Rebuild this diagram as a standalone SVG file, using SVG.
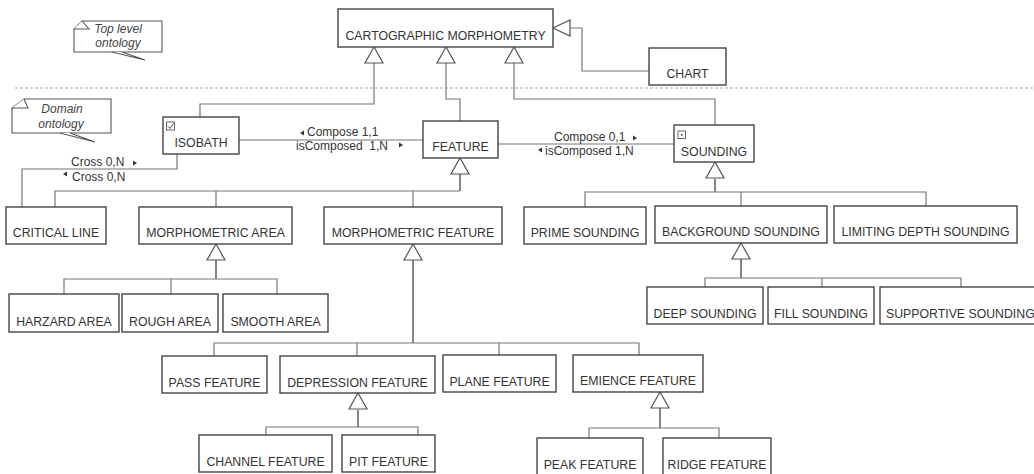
<svg xmlns="http://www.w3.org/2000/svg" xmlns:xlink="http://www.w3.org/1999/xlink" width="1034" height="474" viewBox="0 0 1034 474">
<style>
.box{fill:#fff;stroke:#444;stroke-width:1.4}
.lbl{font-family:"Liberation Sans",Arial,sans-serif;font-size:12.3px;fill:#333;text-anchor:middle}
.al{font-family:"Liberation Sans",Arial,sans-serif;font-size:12px;fill:#333}
.note{fill:#fff;stroke:#555;stroke-width:1.1}
.nt{font-family:"Liberation Sans",Arial,sans-serif;font-size:12px;font-style:italic;fill:#444;text-anchor:middle}
.con{fill:none;stroke:#777;stroke-width:1.2}
.stem{fill:none;stroke:#666;stroke-width:1.6}
.tri{fill:#fff;stroke:#555;stroke-width:1.2}
.ah{fill:#333}
.sep{stroke:#aaa;stroke-width:1.2;stroke-dasharray:3 2}
</style>
<defs>
<polygon id="tri" points="0,0 -9,16 9,16"/>
<polygon id="triL" points="0,0 17,-8 17,8"/>
</defs>
<rect width="1034" height="474" fill="#fff"/>
<line class="sep" x1="15" y1="88" x2="1034" y2="88"/>

<g id="note-top">
<path class="note" d="M82,21 H162 V52 H74 V29 Z"/>
<path class="note" d="M74,29 H89 L82,21"/>
<path class="note" d="M112,52 L145,60 L122,52"/>
<text class="nt" x="118" y="33">Top level</text>
<text class="nt" x="118" y="47">ontology</text>
</g>
<g id="note-domain">
<path class="note" d="M24,99 H111 V133 H12 V108 Z"/>
<path class="note" d="M12,108 H28 L24,99"/>
<path class="note" d="M60,133 L95,142 L70,133"/>
<text class="nt" x="62" y="113">Domain</text>
<text class="nt" x="61" y="128">ontology</text>
</g>

<g id="connectors">
<path class="con" d="M200,117 V104 H374 V63"/>
<path class="con" d="M460,121 V99 H446 V63"/>
<path class="con" d="M715,125 V99 H514 V63"/>
<path class="con" d="M649,71 H582 V28 H570"/>
<path class="con" d="M239,140 H423"/>
<path class="con" d="M498,144 H674"/>
<path class="con" d="M177,154 V169 H22 V207"/>
<path class="stem" d="M460,174 V191"/>
<path class="con" d="M55,207 V191 H460 M216,191 V207 M413,191 V207"/>
<path class="stem" d="M715,179 V192"/>
<path class="con" d="M585,207 V192 H926 V206 M741,192 V206"/>
<path class="stem" d="M216,260 V279"/>
<path class="con" d="M64,294 V279 H277 V294 M171,279 V294"/>
<path class="stem" d="M413,260 V343"/>
<path class="con" d="M214,356 V343 H639 V355 M357,343 V356 M499,343 V355"/>
<path class="stem" d="M741,259 V278"/>
<path class="con" d="M705,287 V278 H961 V287 M822,278 V287"/>
<path class="stem" d="M358,410 V427"/>
<path class="con" d="M266,435 V427 H418 V435"/>
<path class="stem" d="M660,408 V428"/>
<path class="con" d="M589,438 V428 H719 V438"/>
<use href="#tri" class="tri" x="374" y="47"/>
<use href="#tri" class="tri" x="446" y="47"/>
<use href="#tri" class="tri" x="514" y="47"/>
<use href="#triL" class="tri" x="553" y="28"/>
<use href="#tri" class="tri" x="460" y="158"/>
<use href="#tri" class="tri" x="715" y="162"/>
<use href="#tri" class="tri" x="216" y="244"/>
<use href="#tri" class="tri" x="413" y="244"/>
<use href="#tri" class="tri" x="741" y="243"/>
<use href="#tri" class="tri" x="358" y="393"/>
<use href="#tri" class="tri" x="660" y="392"/>
<polygon class="ah" points="304,130.5 300,133 304,135.5"/>
<text class="al" x="307" y="136">Compose 1,1</text>
<text class="al" x="296" y="150" xml:space="preserve">isComposed  1,N</text>
<polygon class="ah" points="399,142.5 403,145 399,147.5"/>
<text class="al" x="554" y="141">Compose 0,1</text>
<polygon class="ah" points="633,135.5 637,138 633,140.5"/>
<polygon class="ah" points="542,147.5 538,150 542,152.5"/>
<text class="al" x="545" y="155">isComposed 1,N</text>
<text class="al" x="71" y="166">Cross 0,N</text>
<polygon class="ah" points="133,160.5 137,163 133,165.5"/>
<polygon class="ah" points="67,171.5 63,174 67,176.5"/>
<text class="al" x="72" y="181">Cross 0,N</text>
</g>

<g id="n-cm"><rect class="box" x="338" y="9" width="215" height="38"/><text class="lbl" x="445.5" y="40">CARTOGRAPHIC MORPHOMETRY</text></g>
<g id="n-chart"><rect class="box" x="649" y="48" width="77" height="37"/><text class="lbl" x="687.5" y="78">CHART</text></g>
<g id="n-isobath"><rect class="box" x="163" y="117" width="76" height="37"/>
<rect x="166.5" y="122" width="8" height="8" fill="#fff" stroke="#555" stroke-width="0.9"/><path d="M168,126.5 L170,128.5 L173.5,123.5" fill="none" stroke="#444" stroke-width="1"/>
<text class="lbl" x="201" y="147">ISOBATH</text></g>
<g id="n-feature"><rect class="box" x="423" y="121" width="75" height="37"/><text class="lbl" x="460.5" y="151">FEATURE</text></g>
<g id="n-sounding"><rect class="box" x="674" y="125" width="80" height="37"/>
<rect x="678" y="131" width="7.5" height="7.5" fill="#fff" stroke="#555" stroke-width="0.9"/><rect x="681" y="134" width="1.6" height="1.6" fill="#444"/>
<text class="lbl" x="714" y="156">SOUNDING</text></g>
<g id="n-critical"><rect class="box" x="6" y="207" width="100" height="37"/><text class="lbl" x="56" y="237">CRITICAL LINE</text></g>
<g id="n-marea"><rect class="box" x="139" y="207" width="153" height="37"/><text class="lbl" x="215.5" y="237">MORPHOMETRIC AREA</text></g>
<g id="n-mfeature"><rect class="box" x="324" y="207" width="178" height="37"/><text class="lbl" x="413" y="237">MORPHOMETRIC FEATURE</text></g>
<g id="n-prime"><rect class="box" x="524" y="207" width="122" height="37"/><text class="lbl" x="585" y="237">PRIME SOUNDING</text></g>
<g id="n-background"><rect class="box" x="655" y="206" width="172" height="37"/><text class="lbl" x="741" y="236">BACKGROUND SOUNDING</text></g>
<g id="n-limiting"><rect class="box" x="834" y="206" width="183" height="37"/><text class="lbl" x="925.5" y="236">LIMITING DEPTH SOUNDING</text></g>
<g id="n-harzard"><rect class="box" x="9" y="294" width="110" height="38"/><text class="lbl" x="64" y="326">HARZARD AREA</text></g>
<g id="n-rough"><rect class="box" x="122" y="294" width="96" height="38"/><text class="lbl" x="170" y="326">ROUGH AREA</text></g>
<g id="n-smooth"><rect class="box" x="223" y="294" width="105" height="38"/><text class="lbl" x="275.5" y="326">SMOOTH AREA</text></g>
<g id="n-deep"><rect class="box" x="647" y="287" width="116" height="37"/><text class="lbl" x="705" y="318">DEEP SOUNDING</text></g>
<g id="n-fill"><rect class="box" x="768" y="287" width="106" height="37"/><text class="lbl" x="821" y="318">FILL SOUNDING</text></g>
<g id="n-supportive"><rect class="box" x="880" y="287" width="160" height="37"/><text class="lbl" x="886" y="318" text-anchor="start" style="text-anchor:start">SUPPORTIVE SOUNDING</text></g>
<g id="n-pass"><rect class="box" x="162" y="356" width="105" height="37"/><text class="lbl" x="214.5" y="387">PASS FEATURE</text></g>
<g id="n-depression"><rect class="box" x="280" y="356" width="155" height="37"/><text class="lbl" x="357.5" y="387">DEPRESSION FEATURE</text></g>
<g id="n-plane"><rect class="box" x="443" y="355" width="113" height="37"/><text class="lbl" x="499.5" y="386">PLANE FEATURE</text></g>
<g id="n-emience"><rect class="box" x="573" y="355" width="130" height="37"/><text class="lbl" x="638" y="385">EMIENCE FEATURE</text></g>
<g id="n-channel"><rect class="box" x="199" y="435" width="133" height="37"/><text class="lbl" x="265.5" y="466">CHANNEL FEATURE</text></g>
<g id="n-pit"><rect class="box" x="342" y="435" width="93" height="37"/><text class="lbl" x="388.5" y="466">PIT FEATURE</text></g>
<g id="n-peak"><rect class="box" x="537" y="438" width="106" height="37"/><text class="lbl" x="590" y="469">PEAK FEATURE</text></g>
<g id="n-ridge"><rect class="box" x="663" y="438" width="108" height="37"/><text class="lbl" x="717" y="469">RIDGE FEATURE</text></g>
</svg>
